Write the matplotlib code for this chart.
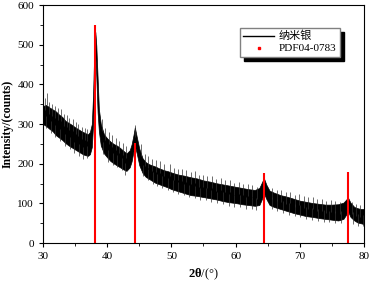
import matplotlib
matplotlib.use('Agg')
import matplotlib.pyplot as plt
from matplotlib.lines import Line2D

plt.rcParams['font.family'] = ['Liberation Serif', 'Noto Sans CJK SC']
plt.rcParams['mathtext.fontset'] = 'custom'
plt.rcParams['mathtext.rm'] = 'Liberation Serif'
plt.rcParams['mathtext.bf'] = 'Liberation Serif:bold'

# XRD trace of nano-silver: lower / upper edge of the noisy band
two_theta = [30.0, 30.5, 31.0, 31.5, 32.0, 32.5, 33.0, 33.5, 34.0, 34.5, 35.0,
             35.5, 36.0, 36.5, 37.0, 37.3, 37.6, 37.8, 38.0, 38.15, 38.3, 38.5, 38.7,
             39.0, 39.5, 40.0, 40.5, 41.0, 41.5, 42.0, 42.5, 43.0, 43.5, 43.8, 44.1,
             44.3, 44.6, 45.0, 45.5, 46.0, 46.5, 47.0, 47.5, 48.0, 48.5, 49.0, 49.5,
             50.0, 51, 52, 53, 54, 55, 56, 57, 58, 59, 60, 61, 62, 63, 63.7,
             64.1, 64.4, 64.8, 65.3, 66, 67, 68, 69, 70, 71, 72, 73, 74, 75, 76,
             76.8, 77.2, 77.5, 77.9, 78.5, 79, 79.5, 80]
band_low = [300, 295, 288, 282, 272, 266, 260, 252, 246, 241, 236,
            231, 226, 222, 220, 224, 242, 300, 420, 475, 420, 330, 282,
            246, 226, 216, 207, 201, 196, 191, 186, 182, 191, 206, 232,
            246, 226, 196, 177, 167, 162, 157, 152, 149, 146, 143, 140,
            136, 131, 126, 121, 119, 116, 113, 110, 106, 103, 101, 98, 96, 94, 96,
            111, 126, 111, 96, 91, 86, 81, 76, 72, 68, 66, 63, 61, 59, 57,
            61, 71, 81, 66, 57, 52, 50, 48]
band_high = [346, 348, 342, 337, 332, 324, 318, 308, 303, 298, 292,
             287, 282, 278, 274, 280, 300, 375, 498, 532, 498, 418, 338,
             300, 274, 264, 256, 250, 246, 240, 233, 226, 234, 249, 273,
             292, 268, 238, 214, 204, 199, 196, 193, 189, 186, 183, 181,
             178, 173, 170, 166, 163, 158, 155, 151, 148, 145, 142, 139, 136, 134, 139,
             153, 164, 147, 132, 127, 121, 117, 112, 107, 104, 101, 99, 97, 97, 98,
             102, 109, 115, 102, 91, 88, 86, 86]

# noise spikes sticking out of the band (position, tip)
up_x = [30.3, 30.6, 31.0, 31.4, 31.9, 32.3, 32.8, 33.2, 33.7, 34.1, 34.6, 35.1, 35.5,
        36.0, 36.5, 36.9, 39.2, 39.7, 40.3, 40.8, 41.3, 41.9, 42.4, 42.9, 44.4, 45.3,
        45.9, 46.4, 47.0, 47.6, 48.2, 48.8, 49.8, 50.4, 51.0, 51.7, 52.3, 53.0, 53.6,
        54.3, 55.0, 55.6, 56.3, 57.0, 57.7, 58.4, 59.1, 59.8, 60.5, 61.2, 61.9, 62.6,
        63.3, 65.7, 66.4, 67.1, 67.8, 68.5, 69.2, 69.9, 70.6, 71.3, 72.0, 72.7, 73.4,
        74.1, 74.8, 75.5, 76.2, 78.2, 78.8, 79.4]
up_tip = [365, 378, 355, 350, 345, 340, 338, 325, 322, 315, 312, 305, 300,
          292, 290, 288, 312, 290, 280, 272, 265, 258, 252, 245, 298, 250,
          225, 220, 212, 210, 206, 200, 200, 190, 188, 186, 184, 178, 182,
          172, 172, 170, 168, 162, 165, 158, 160, 152, 155, 150, 148, 146,
          142, 140, 135, 134, 128, 130, 122, 125, 118, 116, 115, 110, 112,
          106, 108, 106, 104, 104, 98, 96]
down_x = [30.4, 31.2, 31.8, 32.6, 33.4, 34.2, 34.9, 35.6, 36.3, 36.8, 39.4, 40.1,
          40.9, 41.6, 42.3, 42.8, 45.6, 46.3, 47.1, 47.8, 48.6, 49.4, 50.2, 51.1,
          51.9, 52.8, 53.6, 54.5, 55.4, 56.2, 57.1, 58.0, 58.9, 59.8, 60.7, 61.6,
          62.5, 63.2, 65.6, 66.5, 67.4, 68.3, 69.2, 70.1, 71.0, 71.9, 72.8, 73.7,
          74.6, 75.5, 76.4, 78.3, 79.1, 79.8]
down_tip = [290, 278, 268, 258, 245, 238, 226, 220, 212, 214, 225, 205,
            196, 192, 184, 172, 168, 158, 150, 144, 140, 135, 130, 125,
            120, 116, 114, 108, 108, 104, 100, 98, 94, 92, 90, 86,
            85, 84, 86, 80, 76, 72, 68, 66, 62, 58, 56, 54,
            52, 50, 50, 48, 44, 42]

# PDF04-0783 reference lines
pdf_pos = [38.12, 44.28, 64.43, 77.47]
pdf_int = [550, 252, 176, 180]

spike_len = 30

fig = plt.figure(figsize=(3.71, 2.83), dpi=100)
ax = fig.add_axes([0.116, 0.141, 0.865, 0.841])

ax.fill_between(two_theta, band_low, band_high, color='black', lw=0.5)
ax.vlines(up_x, [t - spike_len for t in up_tip], up_tip, color='#333333', lw=0.5)
ax.vlines(down_x, down_tip, [t + spike_len for t in down_tip], color='#333333', lw=0.5)
ax.vlines(pdf_pos, 0, pdf_int, color='red', lw=1.5)

ax.set_xlim(30, 80)
ax.set_ylim(0, 600)
ax.set_xticks(range(30, 81, 10))
ax.set_xticks(range(35, 80, 10), minor=True)
ax.set_yticks(range(0, 601, 100))
ax.set_yticks(range(50, 600, 100), minor=True)
ax.tick_params(direction='out', labelsize=8, length=3)
ax.tick_params(which='minor', direction='out', length=2)

ax.set_ylabel('Intensity/(counts)', fontsize=8.5, fontweight='bold', labelpad=3)
ax.set_xlabel(r'$\mathbf{2θ}$/(°)', fontsize=9)

handles = [Line2D([], [], color='black', lw=1),
           Line2D([], [], color='red', marker='s', markersize=1.5, lw=0)]
ax.legend(handles, ['纳米银', 'PDF04-0783'], loc='upper right',
          bbox_to_anchor=(0.925, 0.905), borderaxespad=0, fontsize=8, fancybox=False,
          edgecolor='grey', framealpha=1, borderpad=0.3, labelspacing=0.2,
          handlelength=2.8, handletextpad=0.4,
          shadow={'color': 'black', 'alpha': 1, 'ox': 3, 'oy': -3})

fig.savefig('out.png', dpi=100)
